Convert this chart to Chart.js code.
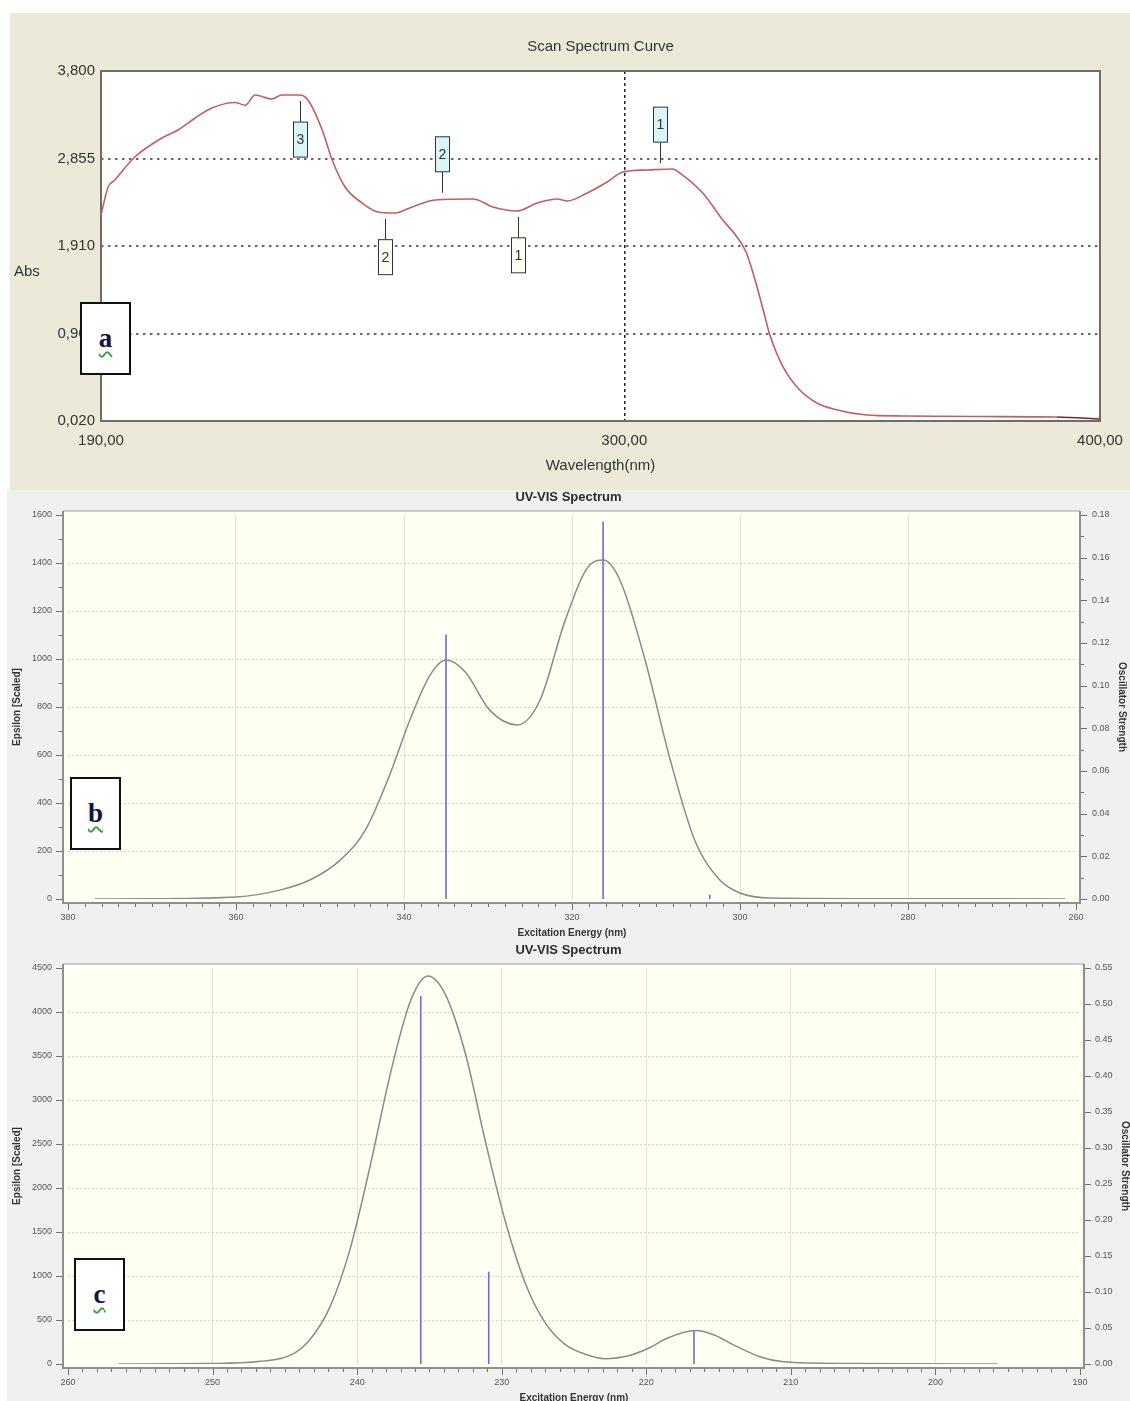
<!doctype html>
<html lang="en">
<head>
<meta charset="utf-8">
<title>UV spectra</title>
<script src="https://cdn.jsdelivr.net/npm/chart.js@4"></script>
<style>
  body { margin: 0; width: 1130px; height: 1401px; background: #fff; position: relative; overflow: hidden; }
  .panel { position: absolute; }
  #pa { left: 10px; top: 13px; width: 1120px; height: 477px; background: #ECE9D8; }
  #pb { left: 7px; top: 490px; width: 1123px; height: 450px; background: #F0F0F0; }
  #pc { left: 7px; top: 940px; width: 1123px; height: 461px; background: #F0F0F0; }
  .tag { position: absolute; width: 51px; height: 73px; box-sizing: border-box; background: #fff; border: 2px solid #111;
         display: flex; align-items: center; justify-content: center;
         font: bold 27px 'Liberation Serif', 'DejaVu Serif', serif; color: #15153a; }
  .tag span { text-decoration: underline wavy #3aa03a; text-decoration-thickness: 1.5px; text-underline-offset: 4px; }
</style>
</head>
<body>
<div class="panel" id="pa"><canvas id="chartA" width="1120" height="477"></canvas></div>
<div class="panel" id="pb"><canvas id="chartB" width="1123" height="450"></canvas></div>
<div class="panel" id="pc"><canvas id="chartC" width="1123" height="461"></canvas></div>
<div class="tag" style="left:80px;top:302px"><span>a</span></div>
<div class="tag" style="left:70px;top:777px"><span>b</span></div>
<div class="tag" style="left:74px;top:1258px"><span>c</span></div>

<script>
// ---- panel a : measured scan
const wlA = [190, 191.5, 192.9, 197.1, 202.8, 206.2, 209.8, 213.3, 218.2, 220.3,
  222.4, 225.9, 228, 231.8, 233.5, 236.5, 238.6, 241.3, 244.9, 248.2,
  251.8, 255.4, 260.2, 268.2, 272.4, 277.4, 281.7, 285.9, 288, 292.2,
  296.4, 299.7, 304.8, 310.2, 311.7, 316.5, 320.7, 323.7, 325.6, 327.5,
  329.2, 330.6, 333.4, 336.9, 340.5, 343.9, 351, 358.6, 375, 391, 400];
const absA = [2.245, 2.547, 2.623, 2.871, 3.076, 3.163, 3.292, 3.40, 3.46, 3.43,
  3.541, 3.498, 3.541, 3.541, 3.487, 3.163, 2.839, 2.547, 2.374, 2.277,
  2.266, 2.331, 2.407, 2.418, 2.331, 2.288, 2.374, 2.418, 2.396, 2.482,
  2.601, 2.709, 2.731, 2.742, 2.698, 2.482, 2.191, 2.007, 1.845, 1.543,
  1.219, 0.949, 0.603, 0.355, 0.214, 0.150, 0.085, 0.074, 0.068, 0.063, 0.042];
const yTicksA = [0.02, 0.965, 1.91, 2.855, 3.8];
const xTicksA = [190, 300, 400];
const markNmA = [231.8, 261.7, 307.5, 249.7, 277.7];
const markAbsA = [3.54, 2.42, 2.74, 2.27, 2.29];
const markLabelA = ['3', '2', '1', '2', '1'];
const markKindA = ['peak', 'peak', 'peak', 'valley', 'valley'];

// ---- panel b : computed spectrum
const nmB = [376.8, 370.2, 360.0, 354.8, 351.2, 347.6, 344.6, 341.7, 339.3, 336.9,
  335.0, 332.7, 329.8, 326.5, 323.8, 320.8, 317.9, 316.3, 314.3, 311.3,
  308.3, 305.4, 302.4, 300.0, 296.4, 281.0, 261.3];
const epsB = [0, 1, 8, 37, 79, 162, 287, 517, 746, 933,
  996, 946, 787, 725, 829, 1162, 1392, 1412, 1329, 996,
  579, 246, 79, 25, 4, 1, 0];
const stickNmB = [335.0, 316.3, 303.6];
const stickFB = [0.124, 0.177, 0.002];
const xMajorB = [380, 360, 340, 320, 300, 280, 260];
const yMajorB = [0, 200, 400, 600, 800, 1000, 1200, 1400, 1600];
const y1MajorB = [0, 0.02, 0.04, 0.06, 0.08, 0.10, 0.12, 0.14, 0.16, 0.18];

// ---- panel c : computed spectrum
const nmC = [256.5, 250.0, 246.7, 244.6, 243.3, 241.9, 240.5, 239.1, 237.7, 236.3,
  235.1, 233.9, 232.5, 231.2, 229.8, 228.4, 227.0, 225.6, 224.2, 222.9,
  221.1, 219.7, 218.6, 216.6, 215.3, 214.0, 212.1, 210.5, 205.9, 201.1, 195.7];
const epsC = [0, 5, 30, 100, 270, 640, 1300, 2250, 3300, 4130,
  4410, 4200, 3520, 2580, 1650, 930, 470, 220, 110, 60,
  100, 190, 290, 380, 330, 220, 80, 25, 5, 2, 0];
const stickNmC = [235.6, 230.9, 216.7];
const stickFC = [0.511, 0.128, 0.047];
const xMajorC = [260, 250, 240, 230, 220, 210, 200, 190];
const yMajorC = [0, 500, 1000, 1500, 2000, 2500, 3000, 3500, 4000, 4500];
const y1MajorC = [0, 0.05, 0.10, 0.15, 0.20, 0.25, 0.30, 0.35, 0.40, 0.45, 0.50, 0.55];

Chart.defaults.animation = false;
Chart.defaults.font.family = "'Liberation Sans', Arial, sans-serif";
const SCAN_FONT = "'Liberation Sans Narrow', 'Liberation Sans', Arial, sans-serif";

// white plot box, frame, title, peak markers and the "Abs" caption of the scan chart
const scanDecor = {
  id: 'scanDecor',
  beforeDraw(chart) {
    const {ctx, chartArea: a} = chart;
    ctx.save();
    ctx.fillStyle = '#fff';
    ctx.fillRect(a.left, a.top, a.width, a.height);
    ctx.restore();
  },
  beforeDatasetsDraw(chart) {
    const {ctx, chartArea: a} = chart;
    ctx.save();
    ctx.strokeStyle = '#6d6d6d';
    ctx.lineWidth = 2;
    ctx.strokeRect(a.left, a.top, a.width, a.height);
    ctx.restore();
  },
  afterDatasetsDraw(chart) {
    const {ctx, chartArea: a} = chart;
    const xs = chart.scales.x, ys = chart.scales.y;
    ctx.save();
    ctx.font = '14px ' + SCAN_FONT;
    ctx.textAlign = 'center';
    ctx.textBaseline = 'middle';
    markNmA.forEach((nm, i) => {
      const x = Math.round(xs.getPixelForValue(nm)) + 0.5;
      const yc = ys.getPixelForValue(markAbsA[i]);
      const up = markKindA[i] === 'peak' && yc - 62 > a.top;
      const y0 = up ? yc - 6 : yc + 6;
      const y1 = up ? yc - 27 : yc + 27;
      ctx.strokeStyle = '#333';
      ctx.lineWidth = 1;
      ctx.beginPath(); ctx.moveTo(x, y0); ctx.lineTo(x, y1); ctx.stroke();
      const bt = up ? y1 - 35 : y1;
      ctx.fillStyle = markKindA[i] === 'peak' ? '#d9f5f5' : '#fdfdf3';
      ctx.fillRect(x - 7, bt, 14, 35);
      ctx.strokeRect(x - 7, bt, 14, 35);
      ctx.fillStyle = '#333';
      ctx.fillText(markLabelA[i], x, bt + 18);
    });
    ctx.restore();
  },
  afterDraw(chart) {
    const {ctx, chartArea: a} = chart;
    ctx.save();
    ctx.font = '15px ' + SCAN_FONT;
    ctx.fillStyle = '#333';
    ctx.textBaseline = 'middle';
    ctx.textAlign = 'center';
    ctx.fillText('Scan Spectrum Curve', (a.left + a.right) / 2, 34);
    ctx.textAlign = 'left';
    ctx.fillText('Abs', 4, 259);
    ctx.restore();
  }
};

new Chart(document.getElementById('chartA'), {
  type: 'line',
  data: {
    datasets: [{
      data: wlA.map((w, i) => ({x: w, y: absA[i]})),
      borderColor: '#c25f5c',
      borderWidth: 1.6,
      pointRadius: 0,
      tension: 0.35,
      cubicInterpolationMode: 'monotone',
      segment: { borderColor: c => c.p0.parsed.x >= 391 ? '#7b2525' : undefined }
    }]
  },
  options: {
    responsive: false,
    layout: { padding: { left: 0, right: 30, top: 58, bottom: 0 } },
    plugins: {
      legend: { display: false },
      tooltip: { enabled: false },
      title: { display: false }
    },
    scales: {
      x: {
        type: 'linear', min: 190, max: 400,
        afterBuildTicks: s => { s.ticks = xTicksA.map(v => ({value: v})); },
        afterFit: s => { s.height = 69; s.paddingLeft = 0; s.paddingRight = 0; },
        ticks: { padding: 11, color: '#333', autoSkip: false, maxRotation: 0,
                 font: { family: SCAN_FONT, size: 15 },
                 callback: v => v.toFixed(2).replace('.', ',') },
        grid: { drawTicks: false, lineWidth: 1.5,
                color: c => c.tick && c.tick.value === 300 ? '#222' : 'transparent' },
        border: { display: false, dash: [3, 3] },
        title: { display: true, text: 'Wavelength(nm)', color: '#333',
                 font: { family: SCAN_FONT, size: 15 }, padding: { top: 0, bottom: 15 } }
      },
      y: {
        min: 0.02, max: 3.8,
        afterBuildTicks: s => { s.ticks = yTicksA.map(v => ({value: v})); },
        afterFit: s => { s.width = 91; },
        ticks: { padding: 6, color: '#333', font: { family: SCAN_FONT, size: 15 },
                 callback: v => v.toFixed(3).replace('.', ',') },
        grid: { drawTicks: false, lineWidth: 2,
                color: c => c.tick && c.tick.value > 0.5 && c.tick.value < 3.5 ? '#6a6a6a' : 'transparent' },
        border: { display: false, dash: [2.5, 4.5] }
      }
    }
  },
  plugins: [scanDecor]
});

// ivory plot box, frame and tick marks of the UV-VIS charts
const uvFrame = {
  id: 'uvFrame',
  box(a) { return { l: a.left - 5, t: a.top - 4, r: a.right + 4, b: a.bottom + 4 }; },
  beforeDraw(chart) {
    const f = this.box(chart.chartArea), ctx = chart.ctx;
    ctx.save();
    ctx.fillStyle = '#FFFFF4';
    ctx.fillRect(f.l, f.t, f.r - f.l, f.b - f.t);
    ctx.restore();
  },
  beforeDatasetsDraw(chart) {
    const f = this.box(chart.chartArea), ctx = chart.ctx;
    ctx.save();
    ctx.strokeStyle = '#bdbdbd'; ctx.lineWidth = 1.5;
    ctx.beginPath(); ctx.moveTo(f.l, f.t); ctx.lineTo(f.r, f.t); ctx.stroke();
    ctx.strokeStyle = '#8f8f8f'; ctx.lineWidth = 2;
    ctx.beginPath(); ctx.moveTo(f.l, f.t); ctx.lineTo(f.l, f.b); ctx.lineTo(f.r, f.b); ctx.lineTo(f.r, f.t); ctx.stroke();
    ctx.strokeStyle = '#6f6f6f'; ctx.lineWidth = 1;
    const sx = chart.scales.x, sy = chart.scales.y, sy1 = chart.scales.y1;
    ctx.beginPath();
    sx.ticks.forEach(t => {
      const p = Math.round(sx.getPixelForValue(t.value)) + 0.5, len = t.label !== '' ? 6 : 3;
      ctx.moveTo(p, f.b + 1); ctx.lineTo(p, f.b + 1 + len);
    });
    sy.ticks.forEach(t => {
      const p = Math.round(sy.getPixelForValue(t.value)) + 0.5, len = t.label !== '' ? 6 : 3;
      ctx.moveTo(f.l - 1, p); ctx.lineTo(f.l - 1 - len, p);
    });
    sy1.ticks.forEach(t => {
      const p = Math.round(sy1.getPixelForValue(t.value)) + 0.5, len = t.label !== '' ? 6 : 3;
      ctx.moveTo(f.r + 1, p); ctx.lineTo(f.r + 1 + len, p);
    });
    ctx.stroke();
    ctx.restore();
  }
};

const near = (list, v) => list.some(m => Math.abs(m - v) < 1e-9);
const tickList = (lo, hi, step) => {
  const out = [];
  for (let i = 0; lo + i * step <= hi + 1e-9; i++) out.push({value: +(lo + i * step).toFixed(4)});
  return out;
};

function uvChart(id, o) {
  return new Chart(document.getElementById(id), {
    type: 'line',
    data: {
      datasets: [{
        data: o.nm.map((w, i) => ({x: w, y: o.eps[i]})),
        yAxisID: 'y',
        borderColor: '#8a8a8a',
        borderWidth: 1.5,
        pointRadius: 0,
        tension: 0.4,
        cubicInterpolationMode: 'monotone'
      }, {
        data: o.stickNm.flatMap((w, i) => [{x: w, y: 0}, {x: w, y: o.stickF[i]}, {x: w, y: null}]),
        yAxisID: 'y1',
        borderColor: '#6b6bdc',
        borderWidth: 1.6,
        pointRadius: 0,
        spanGaps: false
      }]
    },
    options: {
      responsive: false,
      layout: { padding: 0 },
      plugins: {
        legend: { display: false },
        tooltip: { enabled: false },
        title: { display: true, text: 'UV-VIS Spectrum', color: '#2b2b2b',
                 font: { size: 13, weight: 'bold', lineHeight: 1.2 }, padding: o.titlePad }
      },
      scales: {
        x: {
          type: 'linear', reverse: true, min: o.xMin, max: o.xMax,
          afterBuildTicks: s => { s.ticks = tickList(o.xMin, o.xMax, o.xMinor); },
          afterFit: s => { s.height = o.xH; },
          ticks: { autoSkip: false, maxRotation: 0, minRotation: 0, padding: 13.6, color: '#555',
                   font: { size: 9 }, callback: v => near(o.xMajor, v) ? String(v) : '' },
          grid: { drawTicks: false,
                  color: c => c.tick && near(o.xMajor, c.tick.value) && c.tick.value > o.xMin && c.tick.value < o.xMax ? '#e3e3da' : 'transparent' },
          border: { display: false },
          title: { display: true, text: 'Excitation Energy (nm)', color: '#333',
                   font: { size: 10, weight: 'bold' }, padding: { top: 0, bottom: o.xTitlePad } }
        },
        y: {
          position: 'left', min: 0, max: o.yMax,
          afterBuildTicks: s => { s.ticks = tickList(0, o.yMax, o.yMinor); },
          afterFit: s => { s.width = 61; },
          ticks: { autoSkip: false, padding: 16, color: '#555', font: { size: 9 },
                   callback: v => near(o.yMajor, v) ? String(v) : '' },
          grid: { drawTicks: false, lineWidth: 1,
                  color: c => c.tick && near(o.yMajor, c.tick.value) && c.tick.value > 0 && c.tick.value < o.yMax ? '#d6d6cc' : 'transparent' },
          border: { display: false, dash: [2, 2] },
          title: { display: true, text: 'Epsilon [Scaled]', color: '#333',
                   font: { size: 10, weight: 'bold' }, padding: { top: 4, bottom: 0 } }
        },
        y1: {
          position: 'right', min: 0, max: o.y1Max,
          afterBuildTicks: s => { s.ticks = tickList(0, o.y1Max, o.y1Minor); },
          afterFit: s => { s.width = o.rightW; },
          ticks: { autoSkip: false, padding: o.y1Pad, color: '#555', font: { size: 9 },
                   callback: v => near(o.y1Major, v) ? v.toFixed(2) : '' },
          grid: { drawTicks: false, drawOnChartArea: false },
          border: { display: false },
          title: { display: true, text: 'Oscillator Strength', color: '#333',
                   font: { size: 10, weight: 'bold' }, padding: { top: o.y1TitlePad, bottom: 0 } }
        }
      }
    },
    plugins: [uvFrame]
  });
}

uvChart('chartB', {
  nm: nmB, eps: epsB, stickNm: stickNmB, stickF: stickFB,
  xMin: 260, xMax: 380, xMinor: 2, xMajor: xMajorB, xH: 41, xTitlePad: 1,
  yMax: 1600, yMinor: 100, yMajor: yMajorB,
  y1Max: 0.18, y1Minor: 0.01, y1Major: y1MajorB, rightW: 54, y1Pad: 16, y1TitlePad: 2,
  titlePad: { top: 0, bottom: 9.4 }
});

uvChart('chartC', {
  nm: nmC, eps: epsC, stickNm: stickNmC, stickF: stickFC,
  xMin: 190, xMax: 260, xMinor: 1, xMajor: xMajorC, xH: 37, xTitlePad: -3,
  yMax: 4500, yMinor: 500, yMajor: yMajorC,
  y1Max: 0.55, y1Minor: 0.05, y1Major: y1MajorC, rightW: 50, y1Pad: 15, y1TitlePad: -1,
  titlePad: { top: 2.2, bottom: 10.2 }
});
</script>
</body>
</html>
